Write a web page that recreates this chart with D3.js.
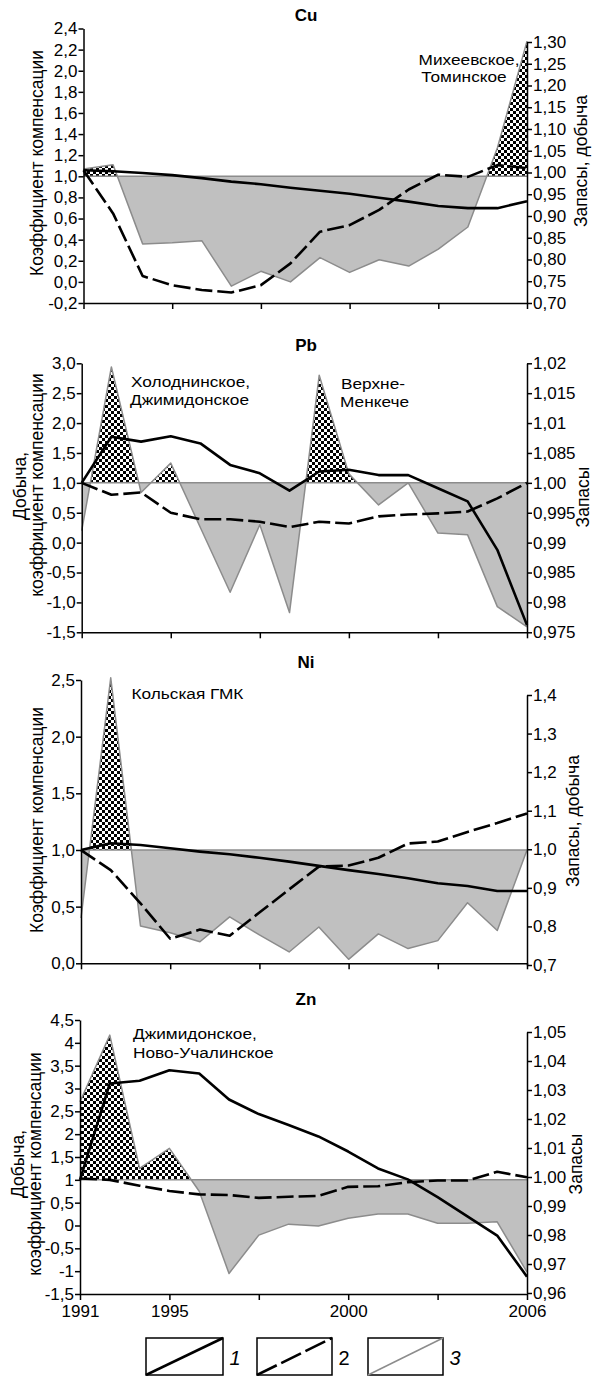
<!DOCTYPE html>
<html><head><meta charset="utf-8">
<script src="https://cdn.jsdelivr.net/npm/d3@7"></script>
<style>
body{margin:0;background:#fff}
svg{display:block}
text{font-family:"Liberation Sans",Arial,sans-serif;fill:#000}
</style>
</head><body>
<svg id="c" width="593" height="1376"></svg>
<script>
// ---------------- DATA ----------------
const years = [1991,1992,1993,1994,1995,1996,1997,1998,1999,2000,2001,2002,2003,2004,2005,2006];
const xTickYears  = [1991,1994,1997,2000,2003,2006];
const xTickLabels = ["1991","1995","","2000","","2006"];

// series 1 = solid line, series 2 = dashed line, series 3 = compensation (grey / checkered)
const cuS1 = [1.005,1.003,0.999,0.994,0.987,0.979,0.973,0.965,0.958,0.951,0.942,0.933,0.923,0.918,0.918,0.934];
const cuS2 = [1.005,0.906,0.762,0.741,0.730,0.724,0.741,0.791,0.864,0.879,0.914,0.961,0.995,0.990,1.017,1.010];
const cuS3 = [1.07,1.11,0.36,0.37,0.39,-0.04,0.10,0.0,0.23,0.09,0.21,0.15,0.31,0.52,1.27,2.28];

const pbS1 = [1.0,1.77,1.69,1.78,1.66,1.30,1.16,0.87,1.19,1.22,1.13,1.13,0.91,0.69,-0.12,-1.38];
const pbS2 = [1.0,0.998,0.9984,0.995,0.9939,0.9939,0.9935,0.9926,0.9935,0.9932,0.9944,0.9947,0.9949,0.9952,0.9974,1.0];
const pbS3 = [0.2,2.94,0.84,1.33,0.25,-0.83,0.30,-1.17,2.80,1.15,0.63,1.0,0.16,0.13,-1.07,-1.41];

const niS1 = [0.998,1.0155,1.011,1.0025,0.994,0.987,0.978,0.968,0.957,0.946,0.936,0.925,0.912,0.905,0.892,0.892];
const niS2 = [0.998,0.946,0.86,0.768,0.792,0.776,0.836,0.896,0.955,0.958,0.978,1.015,1.020,1.045,1.068,1.093];
const niS3 = [0.4,2.52,0.33,0.27,0.19,0.41,0.25,0.10,0.32,0.035,0.26,0.13,0.20,0.535,0.29,1.0];

const znS1 = [1.0,3.11,3.17,3.40,3.33,2.76,2.44,2.20,1.95,1.62,1.25,1.01,0.62,0.20,-0.22,-1.12];
const znS2 = [0.9995,0.9990,0.9970,0.9952,0.9940,0.9938,0.9928,0.9932,0.9935,0.9966,0.9968,0.9982,0.9988,0.9988,1.0018,0.9999];
const znS3 = [2.71,4.17,1.25,1.69,0.75,-1.05,-0.21,0.03,-0.01,0.16,0.25,0.25,0.05,0.05,0.08,-1.02];

// axis ticks
const cuLTicks = [-0.2,0,0.2,0.4,0.6,0.8,1.0,1.2,1.4,1.6,1.8,2.0,2.2,2.4];
const cuLLabels = ["-0,2","0,0","0,2","0,4","0,6","0,8","1,0","1,2","1,4","1,6","1,8","2,0","2,2","2,4"];
const cuRTicks = [0.70,0.75,0.80,0.85,0.90,0.95,1.00,1.05,1.10,1.15,1.20,1.25,1.30];
const cuRLabels = ["0,70","0,75","0,80","0,85","0,90","0,95","1,00","1,05","1,10","1,15","1,20","1,25","1,30"];

const pbLTicks = [-1.5,-1.0,-0.5,0,0.5,1.0,1.5,2.0,2.5,3.0];
const pbLLabels = ["-1,5","-1,0","-0,5","0,0","0,5","1,0","1,5","2,0","2,5","3,0"];
const pbRTicks = [0.975,0.98,0.985,0.99,0.995,1.00,1.005,1.01,1.015,1.02];
const pbRLabels = ["0,975","0,98","0,985","0,99","0,995","1,00","1,085","1,01","1,015","1,02"];

const niLTicks = [0,0.5,1.0,1.5,2.0,2.5];
const niLLabels = ["0,0","0,5","1,0","1,5","2,0","2,5"];
const niRTicks = [0.7,0.8,0.9,1.0,1.1,1.2,1.3,1.4];
const niRLabels = ["0,7","0,8","0,9","1,0","1,1","1,2","1,3","1,4"];

const znLTicks = [-1.5,-1,-0.5,0,0.5,1,1.5,2,2.5,3,3.5,4,4.5];
const znLLabels = ["-1,5","-1","-0,5","0","0,5","1","1,5","2","2,5","3","3,5","4","4,5"];
const znRTicks = [0.96,0.97,0.98,0.99,1.00,1.01,1.02,1.03,1.04,1.05];
const znRLabels = ["0,96","0,97","0,98","0,99","1,00","1,01","1,02","1,03","1,04","1,05"];

const legendLabels = ["1","2","3"];

// ---------------- LAYOUT ----------------
const FONT = 17;
const panels = [
  {title:"Cu", tx:306, ty:15, s1:cuS1, s2:cuS2, s3:cuS3, s1Axis:"r", s2Axis:"r",
   xL:83.5, xR:527, yB:303, lDom:[-0.2,2.4], lRange:[303,28.5], rDom:[0.70,1.30], rRange:[303,42],
   lT:cuLTicks, lL:cuLLabels, rT:cuRTicks, rL:cuRLabels,
   leftTitles:[{t:"Коэффициент компенсации", x:37, y:163}],
   rightTitles:[{t:"Запасы, добыча", x:581, y:161}],
   notes:[{t:"Михеевское,", x:469, y:59, a:"middle"},{t:"Томинское", x:464, y:76.5, a:"middle"}]},
  {title:"Pb", tx:306, ty:345, s1:pbS1, s2:pbS2, s3:pbS3, s1Axis:"l", s2Axis:"r",
   xL:81.7, xR:527, yB:632.3, lDom:[-1.5,3.0], lRange:[632.3,363.3], rDom:[0.975,1.02], rRange:[632.3,363.3],
   lT:pbLTicks, lL:pbLLabels, rT:pbRTicks, rL:pbRLabels,
   leftTitles:[{t:"Добыча,", x:20, y:486},{t:"коэффициент компенсации", x:37, y:485}],
   rightTitles:[{t:"Запасы", x:583, y:497}],
   notes:[{t:"Холоднинское,", x:131, y:381, a:"start"},{t:"Джимидонское", x:130, y:399, a:"start"},
          {t:"Верхне-", x:373, y:383.5, a:"middle"},{t:"Менкече", x:374.5, y:401.5, a:"middle"}]},
  {title:"Ni", tx:306, ty:662, s1:niS1, s2:niS2, s3:niS3, s1Axis:"r", s2Axis:"r",
   xL:81, xR:527, yB:963.3, lDom:[0,2.5], lRange:[963.3,680], rDom:[0.7,1.4], rRange:[965,695],
   lT:niLTicks, lL:niLLabels, rT:niRTicks, rL:niRLabels,
   leftTitles:[{t:"Коэффициент компенсации", x:37, y:820}],
   rightTitles:[{t:"Запасы, добыча", x:573, y:821}],
   notes:[{t:"Кольская ГМК", x:131.5, y:693, a:"start"}]},
  {title:"Zn", tx:306, ty:999, s1:znS1, s2:znS2, s3:znS3, s1Axis:"l", s2Axis:"r",
   xL:80, xR:527, yB:1294, lDom:[-1.5,4.5], lRange:[1294,1020], rDom:[0.96,1.05], rRange:[1293,1032],
   lT:znLTicks, lL:znLLabels, rT:znRTicks, rL:znRLabels,
   leftTitles:[{t:"Добыча,", x:18, y:1164},{t:"коэффициент компенсации", x:35, y:1164}],
   rightTitles:[{t:"Запасы", x:576, y:1164}],
   notes:[{t:"Джимидонское,", x:133, y:1033, a:"start"},{t:"Ново-Учалинское", x:133, y:1052, a:"start"}],
   xLabels:true}
];

// ---------------- DRAW ----------------
const svg = d3.select("#c");
const defs = svg.append("defs");
const pat = defs.append("pattern").attr("id","chk").attr("width",6).attr("height",6)
  .attr("patternUnits","userSpaceOnUse");
pat.append("rect").attr("width",6).attr("height",6).attr("fill","#fff");
pat.append("rect").attr("width",3).attr("height",3).attr("fill","#000");
pat.append("rect").attr("x",3).attr("y",3).attr("width",3).attr("height",3).attr("fill","#000");

const GREY_FILL = "#c0c0c0", GREY_LINE = "#8c8c8c";

function styleAxis(sel){
  sel.attr("font-family",null).attr("font-size",null);
  sel.select(".domain").attr("stroke","#000").attr("stroke-width",1.5);
  sel.selectAll(".tick line").attr("stroke","#000").attr("stroke-width",1.5);
  sel.selectAll(".tick text").attr("font-size",FONT).attr("fill","#000");
}

panels.forEach((p,k)=>{
  const x  = d3.scaleLinear().domain([years[0], years[years.length-1]]).range([p.xL,p.xR]);
  const yl = d3.scaleLinear().domain(p.lDom).range(p.lRange);
  const yr = d3.scaleLinear().domain(p.rDom).range(p.rRange);
  const base = yl(1);
  const g = svg.append("g");

  defs.append("clipPath").attr("id","up"+k).append("rect")
    .attr("x",p.xL).attr("y",p.lRange[1]-40).attr("width",p.xR-p.xL).attr("height",base-(p.lRange[1]-40));
  defs.append("clipPath").attr("id","dn"+k).append("rect")
    .attr("x",p.xL).attr("y",base).attr("width",p.xR-p.xL).attr("height",p.yB-base);

  const area = d3.area().x((d,i)=>x(years[i])).y0(base).y1(d=>yl(d));
  g.append("path").datum(p.s3).attr("d",area).attr("fill","url(#chk)").attr("clip-path",`url(#up${k})`);
  g.append("path").datum(p.s3).attr("d",area).attr("fill",GREY_FILL).attr("clip-path",`url(#dn${k})`);

  g.append("line").attr("x1",p.xL).attr("x2",p.xR).attr("y1",base).attr("y2",base)
    .attr("stroke",GREY_LINE).attr("stroke-width",1.5);
  g.append("path").datum(p.s3)
    .attr("d",d3.line().x((d,i)=>x(years[i])).y(d=>yl(d)))
    .attr("fill","none").attr("stroke",GREY_LINE).attr("stroke-width",1.5).attr("stroke-linejoin","round");

  const sc1 = p.s1Axis==="l"?yl:yr, sc2 = p.s2Axis==="l"?yl:yr;
  g.append("path").datum(p.s1)
    .attr("d",d3.line().x((d,i)=>x(years[i])).y(d=>sc1(d)))
    .attr("fill","none").attr("stroke","#000").attr("stroke-width",2.6).attr("stroke-linejoin","round");
  g.append("path").datum(p.s2)
    .attr("d",d3.line().x((d,i)=>x(years[i])).y(d=>sc2(d)))
    .attr("fill","none").attr("stroke","#000").attr("stroke-width",2.6)
    .attr("stroke-dasharray","17,5").attr("stroke-linejoin","round");

  // axes
  g.append("g").attr("transform",`translate(0,${p.yB})`)
    .call(d3.axisBottom(x).tickValues(xTickYears)
      .tickFormat((d,i)=>p.xLabels?xTickLabels[i]:"").tickSize(6).tickSizeOuter(0).tickPadding(5))
    .call(styleAxis);
  g.append("g").attr("transform",`translate(${p.xL},0)`)
    .call(d3.axisLeft(yl).tickValues(p.lT).tickFormat((d,i)=>p.lL[i]).tickSize(5).tickSizeOuter(0).tickPadding(1))
    .call(styleAxis);
  g.append("g").attr("transform",`translate(${p.xR},0)`)
    .call(d3.axisRight(yr).tickValues(p.rT).tickFormat((d,i)=>p.rL[i]).tickSize(5).tickSizeOuter(0).tickPadding(1))
    .call(styleAxis);

  // texts
  g.append("text").attr("x",p.tx).attr("y",p.ty).attr("text-anchor","middle")
    .attr("dominant-baseline","central").attr("font-size",17).attr("font-weight","bold").text(p.title);
  p.leftTitles.concat(p.rightTitles).forEach(t=>{
    g.append("text").attr("x",t.x).attr("y",t.y).attr("text-anchor","middle")
      .attr("dominant-baseline","central").attr("font-size",17.5)
      .attr("transform",`rotate(-90,${t.x},${t.y})`).text(t.t);
  });
  p.notes.forEach(t=>{
    g.append("text").attr("x",0).attr("y",0).attr("text-anchor",t.a)
      .attr("dominant-baseline","central").attr("font-size",15)
      .attr("transform",`translate(${t.x},${t.y}) scale(1.15,1)`).text(t.t);
  });
});

// ---------------- LEGEND ----------------
const legendBoxes = [{x:146,w:77},{x:257,w:75},{x:368,w:75}];
const lg = svg.append("g");
const ly0 = 1338, lh = 37;
legendBoxes.forEach((b,i)=>{
  lg.append("rect").attr("x",b.x).attr("y",ly0).attr("width",b.w).attr("height",lh)
    .attr("fill","#fff").attr("stroke","#000").attr("stroke-width",1.5);
  const ln = lg.append("line").attr("x1",b.x).attr("y1",ly0+lh).attr("x2",b.x+b.w).attr("y2",ly0);
  if(i===0) ln.attr("stroke","#000").attr("stroke-width",2.6);
  if(i===1) ln.attr("stroke","#000").attr("stroke-width",2.6).attr("stroke-dasharray","22,5");
  if(i===2) ln.attr("stroke","#8c8c8c").attr("stroke-width",1.5);
  lg.append("text").attr("x",b.x+b.w+12).attr("y",ly0+lh/2+1).attr("text-anchor","middle")
    .attr("dominant-baseline","central").attr("font-size",20)
    .attr("font-style",i===1?"normal":"italic").text(legendLabels[i]);
});
</script>
</body></html>
